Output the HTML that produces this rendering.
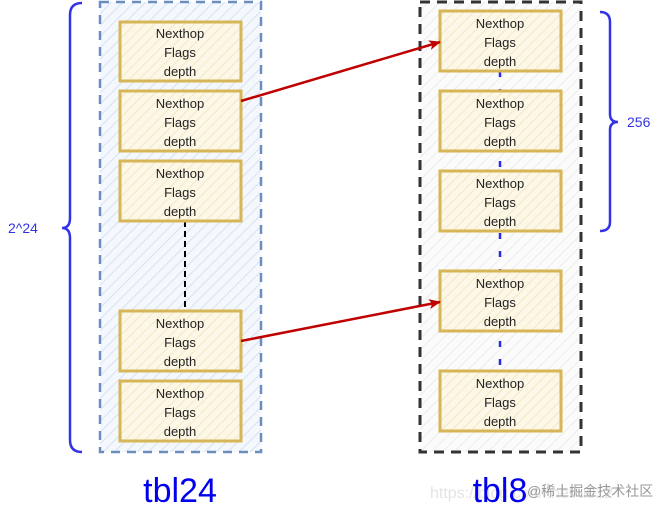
<!DOCTYPE html>
<html><head><meta charset="utf-8"><style>
html,body{margin:0;padding:0;background:#fff;}
svg{display:block;}
text{font-family:"Liberation Sans",Arial,sans-serif;}
</style></head><body>
<svg width="664" height="514" viewBox="0 0 664 514" xmlns="http://www.w3.org/2000/svg">
<defs>
<pattern id="hb" width="8" height="8" patternUnits="userSpaceOnUse" patternTransform="rotate(45)">
<rect width="8" height="8" fill="#f4f8fd"/><line x1="0" y1="0" x2="0" y2="8" stroke="#d6e2f2" stroke-width="2"/></pattern>
<pattern id="hg" width="8" height="8" patternUnits="userSpaceOnUse" patternTransform="rotate(45)">
<rect width="8" height="8" fill="#fbfbfb"/><line x1="0" y1="0" x2="0" y2="8" stroke="#ececec" stroke-width="2"/></pattern>
<pattern id="hy" width="7" height="7" patternUnits="userSpaceOnUse" patternTransform="rotate(45)">
<rect width="7" height="7" fill="#fcf7e6"/><line x1="0" y1="0" x2="0" y2="7" stroke="#f3e8c6" stroke-width="2"/></pattern>
<marker id="ar" markerWidth="12" markerHeight="10" refX="11" refY="5" orient="auto" markerUnits="userSpaceOnUse">
<path d="M0,0 L12,5 L0,10 L3,5 z" fill="#c00000"/></marker>
</defs>
<!-- containers -->
<rect x="100" y="2" width="161" height="450" fill="url(#hb)" stroke="#6c8ebf" stroke-width="2.5" stroke-dasharray="9,7"/>
<rect x="420" y="2" width="161" height="450" fill="url(#hg)" stroke="#333" stroke-width="3" stroke-dasharray="10,7"/>
<!-- connectors -->
<line x1="185" y1="221" x2="185" y2="311" stroke="#000" stroke-width="2" stroke-dasharray="6,4"/>
<line x1="500" y1="71" x2="500" y2="371" stroke="#2a2ae0" stroke-width="2.5" stroke-dasharray="6,12"/>
<!-- left boxes -->
<g fill="url(#hy)" stroke="#d6b656" stroke-width="3">
<rect x="120" y="22" width="121" height="59"/>
<rect x="120" y="91" width="121" height="60"/>
<rect x="120" y="161" width="121" height="60"/>
<rect x="120" y="311" width="121" height="60"/>
<rect x="120" y="381" width="121" height="60"/>
<rect x="440" y="11" width="121" height="60"/>
<rect x="440" y="91" width="121" height="60"/>
<rect x="440" y="171" width="121" height="60"/>
<rect x="440" y="271" width="121" height="60"/>
<rect x="440" y="371" width="121" height="60"/>
</g>
<g font-size="13" fill="#222" text-anchor="middle">
<text x="180" y="38">Nexthop</text><text x="180" y="57">Flags</text><text x="180" y="76">depth</text>
<text x="180" y="108">Nexthop</text><text x="180" y="127">Flags</text><text x="180" y="146">depth</text>
<text x="180" y="178">Nexthop</text><text x="180" y="197">Flags</text><text x="180" y="216">depth</text>
<text x="180" y="328">Nexthop</text><text x="180" y="347">Flags</text><text x="180" y="366">depth</text>
<text x="180" y="398">Nexthop</text><text x="180" y="417">Flags</text><text x="180" y="436">depth</text>
<text x="500" y="28">Nexthop</text><text x="500" y="47">Flags</text><text x="500" y="66">depth</text>
<text x="500" y="108">Nexthop</text><text x="500" y="127">Flags</text><text x="500" y="146">depth</text>
<text x="500" y="188">Nexthop</text><text x="500" y="207">Flags</text><text x="500" y="226">depth</text>
<text x="500" y="288">Nexthop</text><text x="500" y="307">Flags</text><text x="500" y="326">depth</text>
<text x="500" y="388">Nexthop</text><text x="500" y="407">Flags</text><text x="500" y="426">depth</text>
</g>
<!-- arrows -->
<line x1="241" y1="101" x2="440" y2="42" stroke="#c00000" stroke-width="2.5" marker-end="url(#ar)"/>
<line x1="241" y1="341" x2="440" y2="302" stroke="#c00000" stroke-width="2.5" marker-end="url(#ar)"/>
<!-- braces -->
<path d="M82,3 Q70,3 70,15 L70,218 Q70,228 62,228 Q70,228 70,238 L70,440 Q70,452 82,452" fill="none" stroke="#3333e6" stroke-width="2.5"/>
<path d="M600,12 Q610,12 610,22 L610,114 Q610,122 618,122 Q610,122 610,130 L610,222 Q610,231 600,231" fill="none" stroke="#3333e6" stroke-width="2.5"/>
<text x="8" y="233" font-size="14" fill="#3333e6">2^24</text>
<text x="627" y="127" font-size="14" fill="#3333e6">256</text>
<text x="180" y="502" font-size="34" fill="#0000ee" text-anchor="middle">tbl24</text>
<text x="430" y="498" font-size="16" fill="#e4e4e4">https://blog.csdn.net/u012</text>
<text x="500" y="502" font-size="34" fill="#0000ee" text-anchor="middle">tbl8</text>
<text x="527" y="496" font-size="14" fill="#999" font-family="'Liberation Sans','Noto Sans CJK SC',sans-serif">@稀土掘金技术社区</text>
</svg>
</body></html>
